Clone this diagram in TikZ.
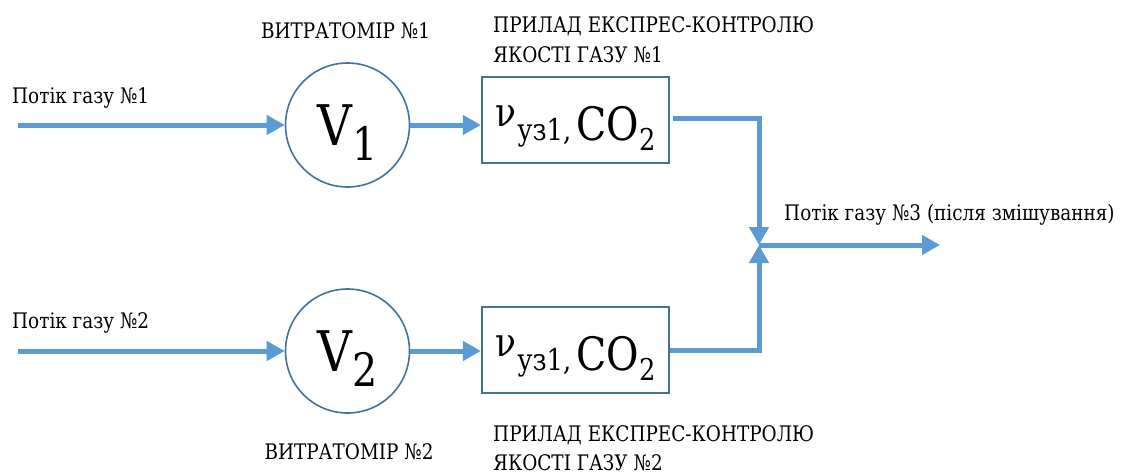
\documentclass[tikz,border=0pt]{standalone}
\usepackage{fontspec}
\setmainfont{DejaVu Serif}[FakeStretch=0.86]
\usetikzlibrary{arrows.meta}
\definecolor{flow}{HTML}{5B9BD5}
\definecolor{edge}{HTML}{41719C}
\tikzset{
  flowline/.style={draw=flow, line width=5pt},
  flowarrow/.style={flowline, -{Triangle[length=18pt,width=19pt]}},
  meter/.style={circle, draw=edge, line width=1.6pt, minimum size=124pt, inner sep=0pt,
    text height=50pt, text depth=10pt, font=\fontsize{56}{60}\selectfont},
  device/.style={rectangle, draw=edge, line width=2.2pt, minimum width=187pt, inner sep=0pt,
    text height=63pt, text depth=23pt, font=\fontsize{46}{50}\selectfont},
  lbl/.style={inner sep=0pt, font=\fontsize{21.4}{30}\selectfont}
}
\newcommand{\meterlabel}[1]{V\raisebox{-15pt}{\fontsize{46}{46}\selectfont #1}}
\newcommand{\devlabel}{\raisebox{14pt}{\fontsize{40}{40}\selectfont ν}\kern1pt{\fontsize{30}{30}\selectfont уз1,}\kern5pt CO\raisebox{-10pt}{\fontsize{30}{30}\selectfont 2}}
\begin{document}
\begin{tikzpicture}[x=1pt,y=-1pt]
\useasboundingbox (0,0) rectangle (1121,474);
% nodes
\node[meter] (v1) at (347.5,125) {\meterlabel{1}};
\node[meter] (v2) at (347.5,351) {\meterlabel{2}};
\node[device] (b1) at (575.5,120) {\devlabel};
\node[device] (b2) at (575.5,350) {\devlabel};
\coordinate (in1) at (18,125);
\coordinate (in2) at (18,351);
\coordinate (j) at (759,245);
\coordinate (out) at (940,245);
% labels
\node[lbl, anchor=base west] (l1) at (12,103) {Потік газу №1};
\node[lbl, anchor=base west] (l2) at (12,328) {Потік газу №2};
\node[lbl, anchor=base] (m1) at (345.5,38) {ВИТРАТОМІР №1};
\node[lbl, anchor=base] (m2) at (349,459) {ВИТРАТОМІР №2};
\node[lbl, anchor=base west] (p1a) at (493,32) {ПРИЛАД ЕКСПРЕС-КОНТРОЛЮ};
\node[lbl, anchor=base west] (p1b) at (493,62) {ЯКОСТІ ГАЗУ №1};
\node[lbl, anchor=base west] (p2a) at (493,441) {ПРИЛАД ЕКСПРЕС-КОНТРОЛЮ};
\node[lbl, anchor=base west] (p2b) at (493,470) {ЯКОСТІ ГАЗУ №2};
\node[lbl, anchor=base west] (l3) at (784,220) {Потік газу №3 (після змішування)};
% connectors
\draw[flowarrow] (in1) -- (v1.west);
\draw[flowarrow] (in2) -- (v2.west);
\draw[flowarrow] (v1.east) -- (v1.east -| b1.west);
\draw[flowarrow] (v2.east) -- (v2.east -| b2.west);
\draw[flowarrow] ([xshift=3pt,yshift=2pt]b1.east) -| (j);
\draw[flowarrow] (b2.east) -| (j);
\draw[flowarrow] (j) -- (out);
\end{tikzpicture}
\end{document}
